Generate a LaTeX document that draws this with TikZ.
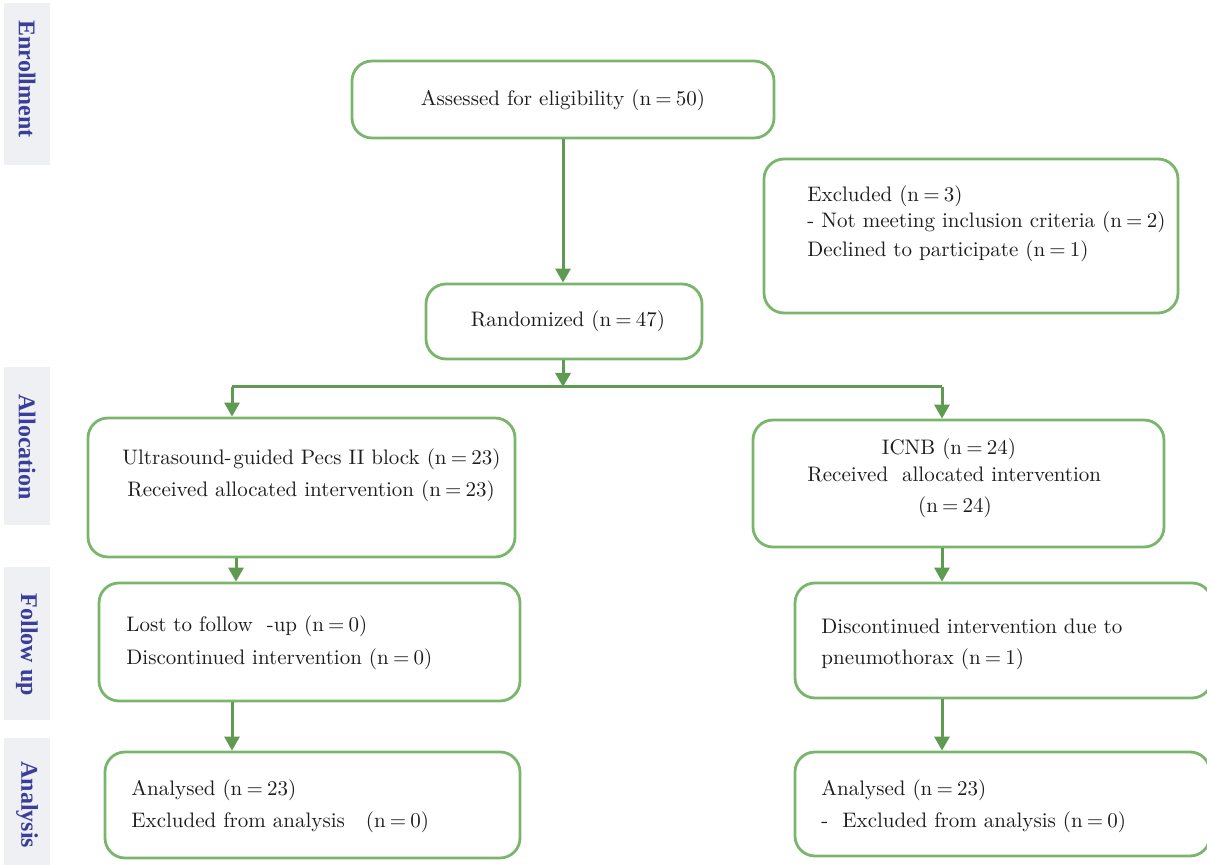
\documentclass[tikz,border=0pt]{standalone}
\usepackage{fontspec}
\newfontfamily\sidefont{Liberation Serif}
\usetikzlibrary{arrows.meta}
\definecolor{boxgreen}{HTML}{7AB56C}
\definecolor{arrgreen}{HTML}{5E9A52}
\definecolor{sidegray}{HTML}{EEF0F3}
\definecolor{sideblue}{HTML}{3A3D9A}
\definecolor{txtcol}{HTML}{1C1C1C}
\newcommand{\eqs}{\hspace{0.2em}=\hspace{0.2em}}
\tikzset{
  box/.style={draw=boxgreen, line width=1.4pt, rounded corners=10pt, inner sep=0pt},
  txt/.style={anchor=west, inner sep=0pt, font=\fontsize{10.5}{12}\selectfont, text=txtcol},
  ctxt/.style={anchor=center, inner sep=0pt, font=\fontsize{10.5}{12}\selectfont, text=txtcol},
  sidetext/.style={rotate=-90, inner sep=0pt, font=\sidefont\bfseries\fontsize{12}{14}\selectfont, text=sideblue},
  arr/.style={draw=arrgreen, line width=1.5pt, -{Triangle[width=7.5pt,length=7pt]}},
  conn/.style={draw=arrgreen, line width=1.5pt},
}
\begin{document}
\begin{tikzpicture}[x=0.5pt,y=-0.5pt]
\useasboundingbox (0,0) rectangle (1207,865);
% side labels
\fill[sidegray] (4,3) rectangle (50,165);
\fill[sidegray] (4,367) rectangle (50,525);
\fill[sidegray] (4,567) rectangle (50,720);
\fill[sidegray] (4,738) rectangle (50,865);
\node[sidetext] (enr) at (27,79) {Enrollment};
\node[sidetext] (alo) at (27,447) {Allocation};
\node[sidetext] (fol) at (27,645) {Follow up};
\node[sidetext] (ana) at (27,805) {Analysis};
% boxes
\node[box, minimum width=211pt, minimum height=38.5pt] (assess) at (563,99.5) {};
\node[box, minimum width=207pt, minimum height=77pt] (excl) at (971,236) {};
\node[box, minimum width=138pt, minimum height=37.5pt] (rand) at (564,321.5) {};
\node[box, minimum width=213.5pt, minimum height=69.5pt] (us) at (301.5,487.5) {};
\node[box, minimum width=205.5pt, minimum height=63.5pt] (icnb) at (958.5,483.5) {};
\node[box, minimum width=210.5pt, minimum height=59pt] (lost) at (309.5,642) {};
\node[box, minimum width=208.5pt, minimum height=57.5pt] (disc) at (1003.5,640.5) {};
\node[box, minimum width=207.5pt, minimum height=53pt] (anl) at (312.5,805) {};
\node[box, minimum width=207.5pt, minimum height=52pt] (anr) at (1002.5,804) {};
% texts
\node[ctxt] (t1) at (563,100) {Assessed for eligibility (n\eqs 50)};
\node[txt] (t2) at (807,196) {Excluded (n\eqs 3)};
\node[txt] (t3) at (807,222) {- Not meeting inclusion criteria (n\eqs 2)};
\node[txt] (t4) at (807,251) {Declined to participate (n\eqs 1)};
\node[ctxt] (t5) at (568,321) {Randomized (n\eqs 47)};
\node[txt] (t6) at (122,459) {Ultrasound-\hspace{0.8pt}guided Pecs II block (n\eqs 23)};
\node[txt] (t7) at (127,491) {Received allocated intervention (n\eqs 23)};
\node[ctxt] (t8) at (949,449) {ICNB (n\eqs 24)};
\node[txt] (t9) at (807,474) {Received\ \ allocated intervention};
\node[ctxt] (t10) at (955,507) {(n\eqs 24)};
\node[txt] (t11) at (126,626) {Lost to follow\ \ -up (n\eqs 0)};
\node[txt] (t12) at (126,659) {Discontinued intervention (n\eqs 0)};
\node[txt] (t13) at (821,626) {Discontinued intervention due to};
\node[txt] (t14) at (821,659) {pneumothorax (n\eqs 1)};
\node[txt] (t15) at (131,790) {Analysed (n\eqs 23)};
\node[txt] (t16) at (131,822) {Excluded from analysis\ \ \ (n\eqs 0)};
\node[txt] (t17) at (821,790) {Analysed (n\eqs 23)};
\node[txt] (t18) at (821,822) {-\ \ Excluded from analysis (n\eqs 0)};
% connectors
\coordinate (split) at (563,387);
\coordinate (L) at (232,387);
\coordinate (R) at (942,387);
\coordinate (xa) at (236,0);
\coordinate (xb) at (232,0);
\draw[arr] (assess.south) -- (assess.south |- rand.north);
\draw[arr] (rand.south -| split) -- (split);
\draw[conn] (L) -- (R);
\draw[arr] (L) -- (L |- us.north);
\draw[arr] (R) -- (R |- icnb.north);
\draw[arr] (us.south -| xa) -- (lost.north -| xa);
\draw[arr] (icnb.south -| R) -- (disc.north -| R);
\draw[arr] (lost.south -| xb) -- (anl.north -| xb);
\draw[arr] (disc.south -| R) -- (anr.north -| R);
\end{tikzpicture}
\end{document}
